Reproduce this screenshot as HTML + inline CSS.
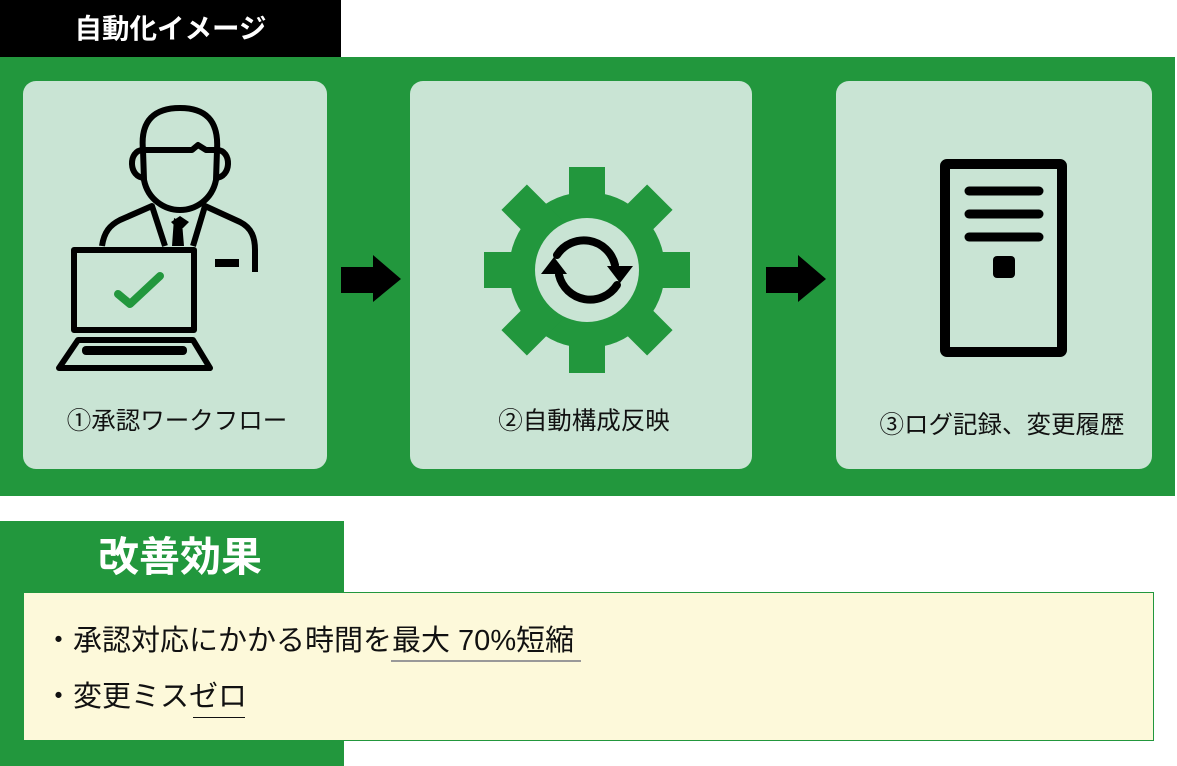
<!DOCTYPE html>
<html><head><meta charset="utf-8"><style>
*{margin:0;padding:0}
body{width:1177px;height:766px;position:relative;background:#fff;font-family:"Liberation Sans","Noto Sans CJK JP",sans-serif;overflow:hidden}
.abs{position:absolute}
.panel{position:absolute;background:#c9e4d4;border-radius:13px;top:81px;height:388px}
.lbl{position:absolute;width:100%;text-align:center;font-size:24.5px;color:#111;top:328px;line-height:30px;box-sizing:border-box}
</style></head><body>
<div class="abs" style="left:0;top:0;width:341px;height:57px;background:#000;color:#fff;font-weight:bold;font-size:27.5px;line-height:57px;text-align:center">自動化イメージ</div>
<div class="abs" style="left:0;top:57px;width:1175px;height:439px;background:#22973d"></div>
<div class="panel" style="left:23px;width:304px"><div class="lbl" style="top:326px;padding-left:4px">①承認ワークフロー</div></div>
<div class="panel" style="left:410px;width:342px"><div class="lbl" style="top:326px;padding-left:6px">②自動構成反映</div></div>
<div class="panel" style="left:836px;width:316px"><div class="lbl" style="top:330px;padding-left:16px">③ログ記録、変更履歴</div></div>
<svg class="abs" style="left:0;top:0" width="1177" height="500" viewBox="0 0 1177 500">
 <g fill="none" stroke="#000" stroke-width="6" stroke-linejoin="round">
  <path d="M143,150 C140,120 155,108 180,108 C205,108 219,120 217,150 L216,180 C212,200 195,210 180,210 C165,210 148,200 144,180 Z"/>
  <path d="M143,150 L192,150 L198,145 L206,150 L217,150"/>
  <path d="M143,150 C128,150 128,178 145,178"/>
  <path d="M217,150 C232,150 232,178 215,178"/>
  <path d="M102,246 C104,232 110,225 120,220 L152,206 L165,246"/>
  <path d="M193,246 L205,206 L240,222 C252,228 255,238 255,250 L255,272"/>
  <rect x="74" y="250" width="120" height="80"/>
  <path d="M78,340 L193,340 L210,368 L59,368 Z"/>
 </g>
 <path d="M174,218 L182,222 L184,246 L172,246 Z M171,222 L180,216 L189,222 L183,228 L177,228 Z" fill="#000"/>
 <rect x="215" y="259" width="24" height="8" fill="#000"/>
 <rect x="82" y="346" width="105" height="9" rx="4" fill="#000"/>
 <path d="M118,294 L130,304 L160,276" fill="none" stroke="#22973d" stroke-width="8" stroke-linecap="round" stroke-linejoin="round"/>
 <path d="M341,267 L373,267 L373,255 L401,279 L373,302 L373,293 L341,293 Z" fill="#000"/>
 <path d="M766,267 L798,267 L798,255 L826,279 L798,302 L798,293 L766,293 Z" fill="#000"/>
 <g transform="translate(587,270)" fill="#22973d">
  <circle r="78"/>
  <rect x="-18" y="-103" width="36" height="206"/>
  <rect x="-103" y="-18" width="206" height="36"/>
  <rect x="-18" y="-103" width="36" height="206" transform="rotate(45)"/>
  <rect x="-18" y="-103" width="36" height="206" transform="rotate(-45)"/>
  <circle r="52" fill="#c9e4d4"/>
  <g fill="none" stroke="#000" stroke-width="8" stroke-linecap="round">
   <path d="M-30,-15 A32,32 0 0 1 28,-5"/>
   <path d="M30,15 A32,32 0 0 1 -28,5"/>
  </g>
  <path d="M20,-4 L46,-4 L33,13 Z" fill="#000"/>
  <path d="M-20,4 L-46,4 L-33,-13 Z" fill="#000"/>
 </g>
 <rect x="945" y="164" width="117" height="188" fill="none" stroke="#000" stroke-width="10" rx="2"/>
 <g stroke="#000" stroke-width="9" stroke-linecap="round">
  <line x1="969" y1="191" x2="1039" y2="191"/>
  <line x1="969" y1="214" x2="1039" y2="214"/>
  <line x1="969" y1="237" x2="1039" y2="237"/>
 </g>
 <rect x="993" y="256" width="22" height="22" rx="4" fill="#000"/>
</svg>
<div class="abs" style="left:0;top:521px;width:344px;height:245px;background:#22973d"></div>
<div class="abs" style="left:0;top:527px;width:360px;text-align:center;color:#fff;font-weight:bold;font-size:41px;line-height:60px">改善効果</div>
<div class="abs" style="left:23px;top:592px;width:1129px;height:147px;background:#fdf9da;border:1px solid #22973d"></div>
<div class="abs" style="left:44px;top:622px;font-size:29px;line-height:38px;color:#111;white-space:nowrap">・承認対応にかかる時間を最大 70%短縮</div>
<div class="abs" style="left:44px;top:678px;font-size:29px;line-height:38px;color:#111;white-space:nowrap">・変更ミスゼロ</div>
<div class="abs" style="left:391px;top:660px;width:190px;height:2px;background:#999"></div>
<div class="abs" style="left:193px;top:717px;width:52px;height:1px;background:#111"></div>
</body></html>
